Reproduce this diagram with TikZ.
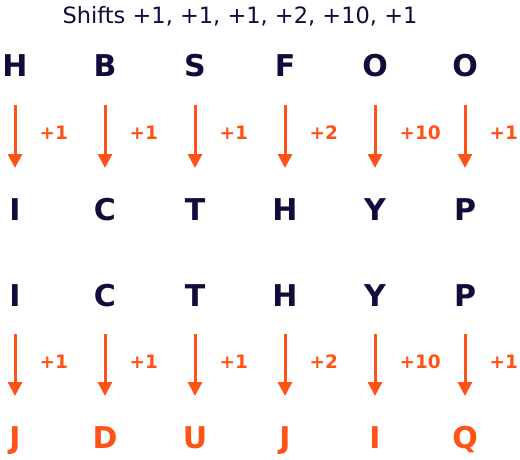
\documentclass[tikz,border=0pt]{standalone}
\usepackage{fontspec}
\setmainfont{DejaVu Sans}
\usepackage{xcolor}
\usetikzlibrary{arrows.meta, positioning}
\definecolor{navy}{HTML}{110C3B}
\definecolor{flame}{HTML}{FF5216}
\begin{document}
\begin{tikzpicture}[x=1pt, y=-1pt,
			letter/.style={anchor=base, inner sep=0pt, text=navy, font=\fontsize{30}{30}\selectfont\bfseries},
			result/.style={letter, text=flame},
			shiftarrow/.style={draw=flame, line width=3pt, shorten <=28pt, shorten >=52pt, -{Triangle[width=14pt, length=14pt]}},
			amount/.style={pos=.39, right=23pt, inner sep=0pt, text=flame, font=\fontsize{18.5}{18.5}\selectfont\bfseries}]
			\useasboundingbox (0,0) rectangle (520,460);
			\node[anchor=base, inner sep=0pt, text=navy, font=\fontsize{22.5}{22.5}\selectfont] (title) at (240,23.5) {Shifts +1, +1, +1, +2, +10, +1};
			\node[letter] (t1) at (15,77) {H};
			\node[letter] (t2) at (105,77) {B};
			\node[letter] (t3) at (195,77) {S};
			\node[letter] (t4) at (285,77) {F};
			\node[letter] (t5) at (375,77) {O};
			\node[letter] (t6) at (465,77) {O};
			\node[letter] (m1) at (15,220) {I};
			\node[letter] (m2) at (105,220) {C};
			\node[letter] (m3) at (195,220) {T};
			\node[letter] (m4) at (285,220) {H};
			\node[letter] (m5) at (375,220) {Y};
			\node[letter] (m6) at (465,220) {P};
			\node[letter] (n1) at (15,306) {I};
			\node[letter] (n2) at (105,306) {C};
			\node[letter] (n3) at (195,306) {T};
			\node[letter] (n4) at (285,306) {H};
			\node[letter] (n5) at (375,306) {Y};
			\node[letter] (n6) at (465,306) {P};
			\node[result] (b1) at (15,448) {J};
			\node[result] (b2) at (105,448) {D};
			\node[result] (b3) at (195,448) {U};
			\node[result] (b4) at (285,448) {J};
			\node[result] (b5) at (375,448) {I};
			\node[result] (b6) at (465,448) {Q};
			\draw[shiftarrow] (t1.base) -- (m1.base) node[amount] (s1) {+1};
			\draw[shiftarrow] (t2.base) -- (m2.base) node[amount] (s2) {+1};
			\draw[shiftarrow] (t3.base) -- (m3.base) node[amount] (s3) {+1};
			\draw[shiftarrow] (t4.base) -- (m4.base) node[amount] (s4) {+2};
			\draw[shiftarrow] (t5.base) -- (m5.base) node[amount] (s5) {+10};
			\draw[shiftarrow] (t6.base) -- (m6.base) node[amount] (s6) {+1};
			\draw[shiftarrow] (n1.base) -- (b1.base) node[amount] (r1) {+1};
			\draw[shiftarrow] (n2.base) -- (b2.base) node[amount] (r2) {+1};
			\draw[shiftarrow] (n3.base) -- (b3.base) node[amount] (r3) {+1};
			\draw[shiftarrow] (n4.base) -- (b4.base) node[amount] (r4) {+2};
			\draw[shiftarrow] (n5.base) -- (b5.base) node[amount] (r5) {+10};
			\draw[shiftarrow] (n6.base) -- (b6.base) node[amount] (r6) {+1};
		\end{tikzpicture}
\end{document}
